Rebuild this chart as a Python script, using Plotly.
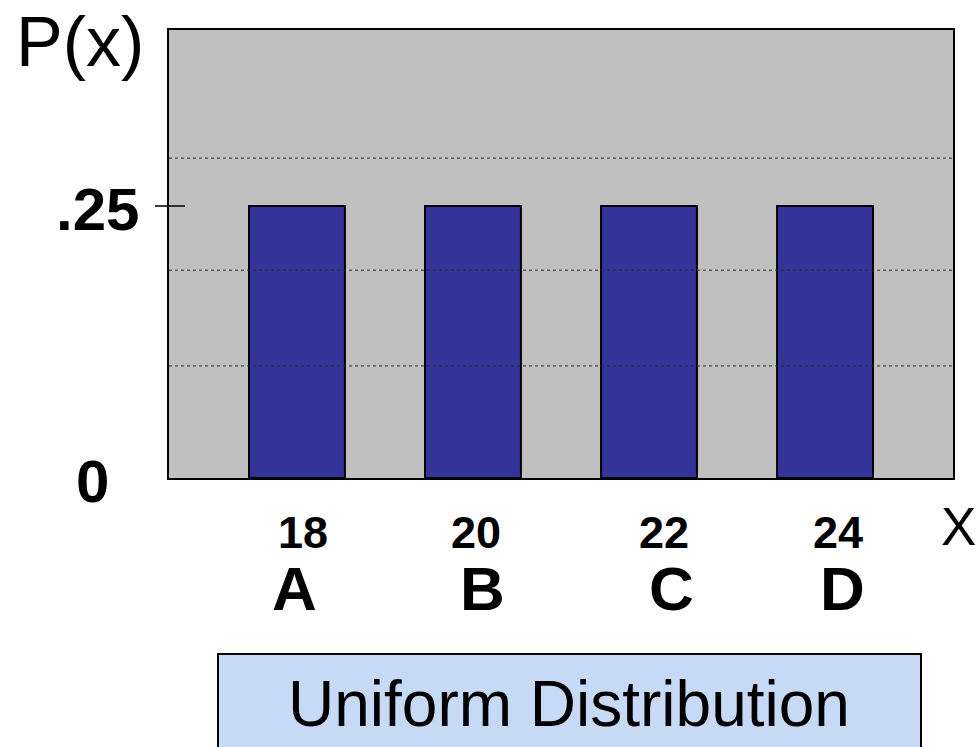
import plotly.graph_objects as go

# ---- data ----
letters = ["A", "B", "C", "D"]
x_values = ["18", "20", "22", "24"]
probabilities = [0.25, 0.25, 0.25, 0.25]
grid_values = [0.103, 0.191, 0.294]
y_tick_vals = [0, 0.25]
y_tick_text = ["0", ".25"]
title_text = "Uniform Distribution"

positions = list(range(len(letters)))
FONT = "Liberation Sans, Arial, sans-serif"

fig = go.Figure()
fig.add_trace(go.Bar(
    x=positions, y=probabilities, width=0.545,
    marker=dict(color="#333399", line=dict(color="black", width=2)),
    hoverinfo="skip",
))

# dotted horizontal grid lines drawn over the bars
for g in grid_values:
    fig.add_shape(type="line", xref="paper", yref="y", x0=0, x1=1, y0=g, y1=g,
                  line=dict(color="#2a2a2a", width=1, dash="dot"), layer="above")

# tick crossing the y axis at .25
fig.add_shape(type="line", xref="paper", yref="y", x0=-14/784, x1=16/784,
              y0=0.25, y1=0.25, line=dict(color="black", width=1.5), layer="above")

# y labels (centered at their own x positions)
y_label_x = [(92-169)/784, (97-169)/784]
for v, t, lx in zip(y_tick_vals, y_tick_text, y_label_x):
    fig.add_annotation(x=lx, y=v, xref="paper", yref="y", text=f"<b>{t}</b>",
                       showarrow=False, xanchor="center", yanchor="middle",
                       yshift=-3, font=dict(family=FONT, size=60, color="black"))

# x labels
num_shift = [6, 3, 15, 13]
let_shift = [-2, 10, 22, 17]
for p, xv, lt, ns, ls in zip(positions, x_values, letters, num_shift, let_shift):
    fig.add_annotation(x=p, y=-54/448, xref="x", yref="paper", text=f"<b>{xv}</b>",
                       showarrow=False, xanchor="center", yanchor="middle", xshift=ns,
                       font=dict(family=FONT, size=45, color="black"))
    fig.add_annotation(x=p, y=-110/448, xref="x", yref="paper", text=f"<b>{lt}</b>",
                       showarrow=False, xanchor="center", yanchor="middle", xshift=ls,
                       font=dict(family=FONT, size=62, color="black"))

# axis names
fig.add_annotation(x=(958-169)/784, y=-48/448, xref="paper", yref="paper", text="X",
                   showarrow=False, xanchor="center", yanchor="middle",
                   font=dict(family=FONT, size=53, color="black"))
fig.add_annotation(x=(80-169)/784, y=(478-42)/448, xref="paper", yref="paper", text="P(x)",
                   showarrow=False, xanchor="center", yanchor="middle",
                   font=dict(family=FONT, size=70, color="black"))

# title box
fig.add_shape(type="rect", xref="paper", yref="paper",
              x0=(218-169)/784, x1=(921-169)/784, y0=(478-760)/448, y1=(478-654)/448,
              fillcolor="#C6D9F5", line=dict(color="black", width=2), layer="above")
fig.add_annotation(x=(569-169)/784, y=(478-704)/448, xref="paper", yref="paper",
                   text=title_text, showarrow=False, xanchor="center", yanchor="middle",
                   font=dict(family=FONT, size=64, color="black"))

fig.update_layout(
    width=977, height=747,
    margin=dict(l=169, r=24, t=30, b=269),
    paper_bgcolor="white", plot_bgcolor="#C0C0C0",
    showlegend=False,
    xaxis=dict(range=[-0.727, 3.727], showticklabels=False, showgrid=False, zeroline=False,
               showline=True, mirror=True, linecolor="black", linewidth=2, ticks=""),
    yaxis=dict(range=[0, 448/1088], showticklabels=False, showgrid=False, zeroline=False,
               showline=True, mirror=True, linecolor="black", linewidth=2, ticks=""),
)

fig.write_html("out.html", config={"displayModeBar": False},
               post_script="document.body.style.margin='0';document.body.style.overflow='hidden';")
